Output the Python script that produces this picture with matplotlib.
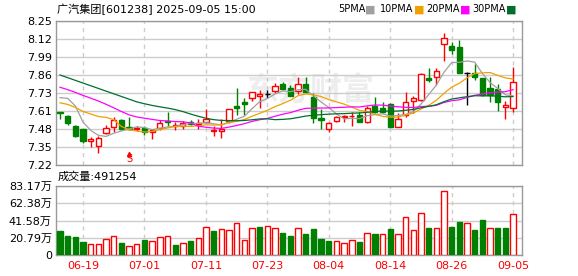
import matplotlib
matplotlib.use('Agg')
import matplotlib.pyplot as plt
from matplotlib.patches import Rectangle
import numpy as np
import pandas as pd

plt.rcParams['font.family'] = ['DejaVu Sans', 'Noto Sans CJK SC']

title = '广汽集团[601238] 2025-09-05 15:00'
dates = pd.bdate_range('2025-06-16', '2025-09-05').strftime('%m-%d').tolist()
date_labels = ['06-19', '07-01', '07-11', '07-23', '08-04', '08-14', '08-26', '09-05']

opens = [7.60, 7.57, 7.499, 7.475, 7.39, 7.356, 7.447, 7.494, 7.542, 7.49,
         7.476, 7.487, 7.456, 7.482, 7.535, 7.50, 7.50, 7.527, 7.513, 7.53,
         7.46, 7.46, 7.537, 7.644, 7.673, 7.697, 7.716, 7.73, 7.749, 7.798,
         7.768, 7.749, 7.80, 7.704, 7.554, 7.477, 7.535, 7.56, 7.57, 7.578,
         7.525, 7.642, 7.63, 7.654, 7.494, 7.578, 7.68, 7.685, 7.845, 7.852,
         8.083, 8.07, 8.064, 7.88, 7.876, 7.845, 7.768, 7.764, 7.633, 7.63]
highs = [7.60, 7.575, 7.506, 7.48, 7.418, 7.427, 7.506, 7.566, 7.55, 7.56,
         7.50, 7.50, 7.48, 7.542, 7.60, 7.53, 7.535, 7.54, 7.547, 7.618,
         7.50, 7.547, 7.62, 7.768, 7.70, 7.745, 7.757, 7.757, 7.808, 7.815,
         7.79, 7.85, 7.85, 7.733, 7.618, 7.525, 7.572, 7.58, 7.60, 7.60,
         7.64, 7.704, 7.673, 7.66, 7.594, 7.74, 7.71, 7.876, 7.916, 7.912,
         8.166, 8.10, 8.114, 7.885, 7.94, 7.845, 7.85, 7.797, 7.678, 7.923]
lows = [7.55, 7.506, 7.42, 7.375, 7.35, 7.308, 7.44, 7.458, 7.47, 7.47,
        7.465, 7.435, 7.406, 7.47, 7.50, 7.47, 7.475, 7.506, 7.478, 7.523,
        7.43, 7.41, 7.52, 7.578, 7.578, 7.68, 7.625, 7.697, 7.733, 7.76,
        7.71, 7.726, 7.733, 7.523, 7.48, 7.458, 7.53, 7.53, 7.50, 7.53,
        7.52, 7.59, 7.59, 7.49, 7.49, 7.565, 7.594, 7.68, 7.816, 7.79,
        7.964, 8.012, 7.88, 7.65, 7.828, 7.716, 7.673, 7.606, 7.549, 7.597]
closes = [7.59, 7.523, 7.429, 7.392, 7.405, 7.41, 7.487, 7.542, 7.475, 7.475,
          7.487, 7.458, 7.47, 7.523, 7.525, 7.506, 7.52, 7.515, 7.523, 7.547,
          7.47, 7.475, 7.618, 7.625, 7.654, 7.74, 7.728, 7.73, 7.787, 7.763,
          7.714, 7.798, 7.744, 7.554, 7.542, 7.518, 7.565, 7.57, 7.574, 7.53,
          7.625, 7.601, 7.601, 7.494, 7.547, 7.668, 7.697, 7.87, 7.83, 7.893,
          8.126, 8.043, 7.88, 7.88, 7.85, 7.72, 7.72, 7.668, 7.65, 7.816]
volumes = [289000, 229000, 217000, 161000, 133000, 133000, 189000, 225000, 145000, 105000,
           133000, 181000, 169000, 213000, 229000, 121000, 145000, 169000, 201000, 334000,
           289000, 310000, 301000, 382000, 181000, 322000, 338000, 346000, 322000, 265000,
           229000, 322000, 253000, 313000, 193000, 172000, 169000, 141000, 177000, 161000,
           265000, 253000, 253000, 313000, 253000, 454000, 301000, 506000, 325000, 325000,
           768000, 338000, 398000, 386000, 301000, 422000, 325000, 325000, 325000, 491254]
# closes of the 29 days before 06-16, estimated from where the MA lines start
closes_before = [8.10, 8.01, 7.97, 7.98, 7.99, 8.06, 8.12, 8.05, 8.05, 8.07,
                 7.86, 7.83, 7.82, 7.80, 7.82, 7.95, 8.05, 8.00, 7.96, 7.78,
                 7.64, 7.64, 7.68, 7.59, 7.59, 7.55, 7.70, 7.97, 7.70]

price_labels = ['7.22', '7.35', '7.48', '7.61', '7.73', '7.86', '7.99', '8.12', '8.25']
vol_labels = ['0', '20.79万', '41.58万', '62.38万', '83.17万']
vol_max = 831700
ma_periods = [5, 10, 20, 30]
ma_colors = ['#a0a0a0', '#f0a000', '#ff00ff', '#006f2e']

RED = '#ff0000'
GREEN = '#008000'
W, H = 578, 276


def fx(px):
    return px / W


def fy(py):
    return 1 - py / H


fig = plt.figure(figsize=(W / 100, H / 100), dpi=100)
ax = fig.add_axes([fx(56), fy(165), 466 / W, 144 / H])
axv = fig.add_axes([fx(56), fy(255), 466 / W, 69 / H])

x = np.arange(len(closes))
tick_pos = [dates.index(d) for d in date_labels]

# candles
w = 0.68
for i in x:
    o, h, l, c = opens[i], highs[i], lows[i], closes[i]
    if c > o:
        col, face = RED, 'white'
    elif c < o:
        col, face = GREEN, GREEN
    else:
        col, face = 'black', 'black'
    ax.vlines(i, l, h, color=col, lw=1, zorder=3)
    if c == o:
        ax.hlines(c, i - w / 2, i + w / 2, color=col, lw=1, zorder=4)
    else:
        ax.add_patch(Rectangle((i - w / 2, min(o, c)), w, abs(c - o),
                               facecolor=face, edgecolor=col, lw=1, zorder=4))

# moving averages
all_close = pd.Series(closes_before + closes)
for n, col in zip(ma_periods, ma_colors):
    ma = all_close.rolling(n).mean().iloc[len(closes_before):].values
    ax.plot(x, ma, color=col, lw=0.9, zorder=5)

# S marker
ax.plot(9, 7.30, marker='^', ms=3, color=RED, zorder=5)
ax.text(9, 7.262, 'S', color=RED, fontsize=7, ha='center', va='center', zorder=5)

# watermark
ax.text(0.545, 0.51, '东方财富', transform=ax.transAxes, fontsize=23, color='#ededed',
        ha='center', va='center', zorder=0, weight='bold', family='Noto Sans CJK SC')

ax.set_xlim(-0.52, 60.16)
ax.set_ylim(7.22, 8.25)
ax.set_yticks(np.linspace(7.22, 8.25, 9))
ax.set_yticklabels(price_labels)
ax.set_xticks(tick_pos)
ax.tick_params(axis='x', labelbottom=False, length=0)

# volume
prev = [closes_before[-1]] + closes[:-1]
up = np.array(closes) >= np.array(prev)
axv.bar(x, volumes, width=0.7, color=np.where(up, 'white', GREEN),
        edgecolor=np.where(up, RED, GREEN), lw=1, zorder=3)
axv.set_xlim(-0.52, 60.16)
axv.set_ylim(0, vol_max)
axv.set_yticks(np.linspace(0, vol_max, 5))
axv.set_yticklabels(vol_labels)
axv.set_xticks(tick_pos)
axv.set_xticklabels(date_labels, color=RED, fontsize=8)
axv.tick_params(axis='x', length=0, pad=4)

for a in (ax, axv):
    a.tick_params(axis='y', length=0, pad=3, labelsize=8)
    a.grid(axis='y', color='#cccccc', lw=1)
    a.grid(axis='x', color='#cccccc', lw=1, ls=(0, (3, 3)))
    a.set_axisbelow(True)
    for s in a.spines.values():
        s.set_color('#999999')
        s.set_linewidth(1)

# header texts
fig.text(fx(57), fy(9), title, fontsize=8, va='center', ha='left')
leg_x = [338, 380, 426, 472]
for n, col, lx in zip(ma_periods, ma_colors, leg_x):
    t = f'{n}PMA'
    fig.text(fx(lx), fy(9), t, fontsize=7, va='center', ha='left')
    fig.text(fx(lx + 6.5 * len(t) + 1), fy(9.5), '■', fontsize=8, color=col, va='center', ha='left')
fig.text(fx(58), fy(177), f'成交量:{volumes[-1]}', fontsize=8, va='center', ha='left')

fig.savefig('out.png', dpi=100)
